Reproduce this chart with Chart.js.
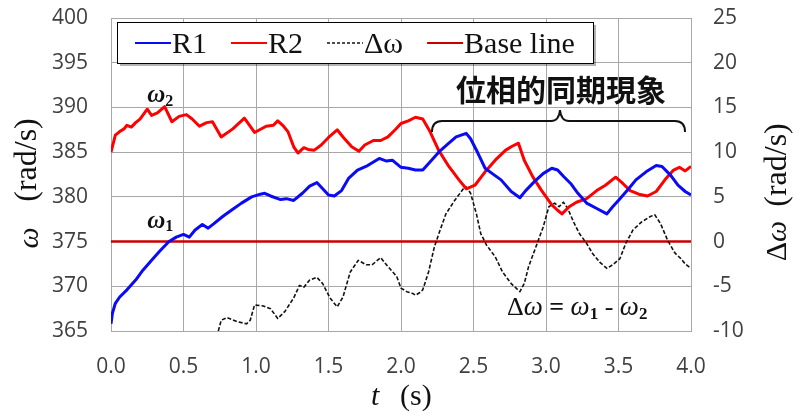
<!DOCTYPE html>
<html><head><meta charset="utf-8">
<script src="https://cdn.jsdelivr.net/npm/chart.js@4.4.1/dist/chart.umd.min.js"></script>
<style>html,body{margin:0;padding:0;background:#fff;}#wrap{width:799px;height:416px;}</style>
</head><body><div id="wrap"><canvas id="c" width="799" height="416"></canvas></div>
<script>
// ---- data ----
const r1Time  = [0.00,0.01,0.03,0.06,0.11,0.17,0.22,0.28,0.34,0.40,0.45,0.50,0.54,0.58,0.63,0.67,0.71,0.77,0.83,0.90,0.97,1.03,1.06,1.10,1.17,1.21,1.26,1.32,1.37,1.42,1.46,1.50,1.54,1.59,1.64,1.70,1.77,1.85,1.90,1.94,2.00,2.05,2.10,2.15,2.20,2.26,2.33,2.38,2.45,2.48,2.53,2.58,2.63,2.69,2.76,2.82,2.86,2.92,2.98,3.04,3.08,3.12,3.17,3.22,3.28,3.35,3.42,3.46,3.51,3.57,3.62,3.69,3.76,3.80,3.86,3.91,3.96,4.00];
const r1Omega = [365.8,367.0,368.1,368.8,369.6,370.7,371.8,372.9,374.0,375.0,375.5,375.8,375.5,376.3,376.9,376.5,377.0,377.8,378.5,379.3,380.0,380.3,380.4,380.1,379.7,379.8,379.6,380.4,381.2,381.6,380.9,380.2,380.1,380.7,382.1,383.0,383.5,384.3,384.0,384.1,383.3,383.2,383.0,383.0,383.9,385.0,386.0,386.7,387.1,386.5,384.9,383.2,382.6,381.9,380.6,379.9,380.7,381.7,382.6,383.2,383.0,382.3,381.5,380.4,379.3,378.7,378.1,378.9,379.8,380.9,381.9,382.8,383.5,383.4,382.4,381.3,380.6,380.2];

const r2Time  = [0.00,0.03,0.06,0.09,0.11,0.14,0.17,0.20,0.25,0.28,0.32,0.37,0.42,0.47,0.52,0.56,0.61,0.66,0.70,0.76,0.84,0.92,0.99,1.07,1.12,1.15,1.19,1.22,1.26,1.29,1.33,1.36,1.40,1.45,1.51,1.56,1.60,1.66,1.71,1.75,1.81,1.86,1.91,1.96,2.00,2.05,2.10,2.15,2.20,2.26,2.33,2.40,2.45,2.51,2.58,2.65,2.72,2.76,2.81,2.85,2.91,2.97,3.04,3.08,3.11,3.16,3.21,3.28,3.35,3.41,3.48,3.53,3.58,3.64,3.70,3.76,3.82,3.88,3.92,3.96,4.00];
const r2Omega = [385.0,386.9,387.3,387.6,388.0,387.8,388.3,388.7,389.8,389.1,389.4,390.1,388.4,389.0,389.2,388.7,387.9,388.3,388.4,386.7,387.6,388.8,387.2,387.9,388.0,388.5,387.9,387.3,385.6,384.9,385.5,385.3,385.2,385.8,386.8,387.5,386.7,385.6,385.1,385.8,386.3,386.3,386.7,387.5,388.2,388.5,388.9,388.7,387.3,385.2,383.4,381.9,380.9,381.3,382.8,384.1,385.2,385.6,386.0,384.1,382.2,380.7,379.1,378.5,378.1,378.9,379.4,379.8,380.7,381.3,382.2,381.5,380.7,380.3,380.1,380.6,381.9,383.0,383.3,382.9,383.4];

const dwTime  = [0.74,0.76,0.80,0.87,0.935,0.96,0.99,1.05,1.10,1.15,1.20,1.26,1.30,1.33,1.37,1.42,1.46,1.51,1.56,1.60,1.65,1.705,1.76,1.80,1.86,1.91,1.97,2.00,2.04,2.08,2.10,2.13,2.15,2.19,2.23,2.27,2.31,2.37,2.43,2.45,2.48,2.52,2.55,2.59,2.65,2.70,2.76,2.82,2.85,2.88,2.93,2.98,3.02,3.06,3.09,3.12,3.15,3.19,3.23,3.28,3.32,3.37,3.42,3.46,3.51,3.55,3.60,3.66,3.72,3.75,3.79,3.84,3.89,3.93,3.96,4.00];
const dwValue = [-10,-8.8,-8.5,-8.95,-9.2,-8.8,-7.1,-7.2,-7.5,-8.6,-7.8,-6.3,-4.9,-5.1,-4.3,-4.0,-4.7,-6.3,-7.3,-6.2,-3.4,-2.1,-2.6,-2.6,-1.8,-2.8,-3.9,-5.2,-5.6,-5.8,-6.0,-5.7,-5.4,-3.4,-0.6,1.3,3.1,4.6,5.9,6.1,5.4,3.1,0.9,-0.4,-1.7,-3.4,-4.7,-5.6,-4.7,-2.8,-0.6,1.6,3.9,4.3,3.9,4.4,3.7,2.2,0.9,-0.2,-1.3,-2.3,-3.0,-2.6,-1.9,-0.2,1.3,2.2,2.8,3.0,2.0,0.1,-1.3,-1.9,-2.5,-3.0];

const baseTime  = [0, 4];
const baseOmega = [375, 375];

const seriesLabels = ['R1', 'R2', 'Δω', 'Base line'];
const xTicks = [0.0, 0.5, 1.0, 1.5, 2.0, 2.5, 3.0, 3.5, 4.0];
const yRange = [365, 400];
const y2Range = [-10, 25];

const pts = (ts, vs) => ts.map((t, i) => ({x: t, y: vs[i]}));

const SERIF = '"Liberation Serif", "Times New Roman", serif';
const SANS = '"Open Sans", "Liberation Sans", sans-serif';
const CJK = '"Noto Sans CJK JP", "Noto Sans CJK SC", sans-serif';

function drawRuns(ctx, x, y, parts, align) {
  let w = 0;
  parts.forEach(p => { ctx.font = p.f; p.w = ctx.measureText(p.t).width; w += p.w; });
  let cx = align === 'center' ? x - w / 2 : x;
  parts.forEach(p => { ctx.font = p.f; ctx.fillText(p.t, cx, y + (p.dy || 0)); cx += p.w; });
  return w;
}

const decor = {
  id: 'decor',
  afterDraw(chart) {
    const ctx = chart.ctx;
    const xs = chart.scales.x, ys = chart.scales.y;
    ctx.save();
    ctx.textBaseline = 'alphabetic';
    ctx.fillStyle = '#111';

    // ω2 / ω1 labels
    drawRuns(ctx, xs.getPixelForValue(0.25), ys.getPixelForValue(390.6), [
      {t: 'ω', f: 'bold italic 25px ' + SERIF},
      {t: '2', f: 'bold 16px ' + SERIF, dy: 4}
    ], 'left');
    drawRuns(ctx, xs.getPixelForValue(0.25), ys.getPixelForValue(376.5), [
      {t: 'ω', f: 'bold italic 25px ' + SERIF},
      {t: '1', f: 'bold 16px ' + SERIF, dy: 3}
    ], 'left');

    // Δω equation
    drawRuns(ctx, 507, 315, [
      {t: 'Δ', f: '26px ' + SERIF},
      {t: 'ω', f: 'italic 27px ' + SERIF},
      {t: ' = ', f: 'bold 26px ' + SERIF},
      {t: 'ω', f: 'italic 27px ' + SERIF},
      {t: '1', f: 'bold 17px ' + SERIF, dy: 4},
      {t: ' - ', f: '26px ' + SERIF},
      {t: 'ω', f: 'italic 27px ' + SERIF},
      {t: '2', f: 'bold 17px ' + SERIF, dy: 4}
    ], 'left');

    // Japanese annotation + brace
    ctx.font = 'bold 30px ' + CJK;
    ctx.textAlign = 'center';
    ctx.textBaseline = 'middle';
    ctx.fillText('位相的同期現象', 561, 90);
    ctx.textAlign = 'left';
    ctx.textBaseline = 'alphabetic';
    ctx.strokeStyle = '#111';
    ctx.lineWidth = 2;
    ctx.beginPath();
    ctx.moveTo(432, 132);
    ctx.quadraticCurveTo(432, 121, 442, 121);
    ctx.lineTo(551, 121);
    ctx.quadraticCurveTo(559, 121, 560, 110);
    ctx.quadraticCurveTo(561, 121, 569, 121);
    ctx.lineTo(675, 121);
    ctx.quadraticCurveTo(685, 121, 685, 132);
    ctx.stroke();

    // axis titles
    ctx.fillStyle = '#111';
    ctx.save();
    ctx.translate(30, 238); ctx.rotate(-Math.PI / 2);
    ctx.font = 'italic 30px ' + SERIF; ctx.textAlign = 'center'; ctx.textBaseline = 'middle';
    ctx.fillText('ω', 0, 0);
    ctx.restore();
    ctx.save();
    ctx.translate(28, 160); ctx.rotate(-Math.PI / 2);
    ctx.font = '32px ' + SERIF; ctx.textAlign = 'center'; ctx.textBaseline = 'middle';
    ctx.fillText('(rad/s)', 0, 0);
    ctx.restore();
    ctx.save();
    ctx.translate(778, 241); ctx.rotate(-Math.PI / 2);
    ctx.textBaseline = 'middle';
    drawRuns(ctx, 0, 0, [{t: 'Δ', f: '30px ' + SERIF}, {t: 'ω', f: 'italic 30px ' + SERIF}], 'center');
    ctx.restore();
    ctx.save();
    ctx.translate(778, 165); ctx.rotate(-Math.PI / 2);
    ctx.font = '32px ' + SERIF; ctx.textAlign = 'center'; ctx.textBaseline = 'middle';
    ctx.fillText('(rad/s)', 0, 0);
    ctx.restore();
    ctx.font = 'italic 30px ' + SERIF; ctx.textBaseline = 'alphabetic';
    ctx.fillText('t', 371, 405);
    ctx.font = '30px ' + SERIF;
    ctx.fillText('(s)', 400, 405);

    // legend box
    const L = {left: 117, top: 22, right: 593, bottom: 63};
    ctx.fillStyle = 'rgba(0,0,0,0.3)';
    ctx.fillRect(L.left + 3, L.top + 3, L.right - L.left, L.bottom - L.top);
    ctx.fillStyle = '#fff';
    ctx.fillRect(L.left, L.top, L.right - L.left, L.bottom - L.top);
    ctx.strokeStyle = '#000'; ctx.lineWidth = 1;
    ctx.strokeRect(L.left + 0.5, L.top + 0.5, L.right - L.left, L.bottom - L.top);
    let lx = L.left + 18;
    const cy = 43;
    chart.data.datasets.forEach(ds => {
      ctx.save();
      ctx.strokeStyle = ds.borderColor;
      ctx.lineWidth = Math.min(ds.borderWidth, 2);
      ctx.setLineDash(ds.borderDash ? [3, 2] : []);
      ctx.beginPath(); ctx.moveTo(lx, cy); ctx.lineTo(lx + 36, cy); ctx.stroke();
      ctx.restore();
      lx += 37;
      ctx.fillStyle = '#111';
      ctx.font = '30px ' + SERIF;
      ctx.fillText(ds.label, lx, 53);
      lx += ctx.measureText(ds.label).width + 24;
    });
    ctx.restore();
  }
};

const gridColor = '#a8a8a8';
const fitY = w => s => { s.width = w; s.paddingTop = 0; s.paddingBottom = 0; };
new Chart(document.getElementById('c'), {
  type: 'line',
  data: {
    datasets: [
      {label: seriesLabels[0], data: pts(r1Time, r1Omega), yAxisID: 'y', borderColor: 'rgb(10,10,245)', borderWidth: 3},
      {label: seriesLabels[1], data: pts(r2Time, r2Omega), yAxisID: 'y', borderColor: 'rgb(255,0,0)', borderWidth: 3},
      {label: seriesLabels[2], data: pts(dwTime, dwValue), yAxisID: 'y2', borderColor: '#111', borderWidth: 1.6, borderDash: [4, 2]},
      {label: seriesLabels[3], data: pts(baseTime, baseOmega), yAxisID: 'y', borderColor: 'rgb(200,0,0)', borderWidth: 2.5}
    ]
  },
  options: {
    responsive: false,
    devicePixelRatio: 1,
    animation: false,
    events: [],
    layout: {padding: {top: 18, left: 0, right: 0, bottom: 0}},
    elements: {point: {radius: 0}, line: {tension: 0, fill: false, borderJoinStyle: 'round'}},
    plugins: {legend: {display: false}, tooltip: {enabled: false}},
    scales: {
      x: {
        type: 'linear', min: xTicks[0], max: xTicks[xTicks.length - 1],
        afterBuildTicks: s => { s.ticks = xTicks.map(v => ({value: v})); },
        afterFit: s => { s.height = 85; s.paddingLeft = 0; s.paddingRight = 0; },
        grid: {color: gridColor, drawTicks: false},
        border: {color: gridColor},
        ticks: {padding: 23, color: '#404040', font: {family: SANS, size: 21}, callback: v => Number(v).toFixed(1), maxRotation: 0}
      },
      y: {
        position: 'left', min: yRange[0], max: yRange[1],
        afterFit: fitY(111),
        grid: {color: gridColor, drawTicks: false},
        border: {color: gridColor},
        ticks: {stepSize: 5, padding: 23, color: '#404040', font: {family: SANS, size: 21}}
      },
      y2: {
        position: 'right', min: y2Range[0], max: y2Range[1],
        afterFit: fitY(108),
        grid: {drawOnChartArea: false, drawTicks: false},
        border: {display: false},
        ticks: {stepSize: 5, padding: 22, color: '#404040', font: {family: SANS, size: 21}}
      }
    }
  },
  plugins: [decor]
});
</script>
</body></html>
